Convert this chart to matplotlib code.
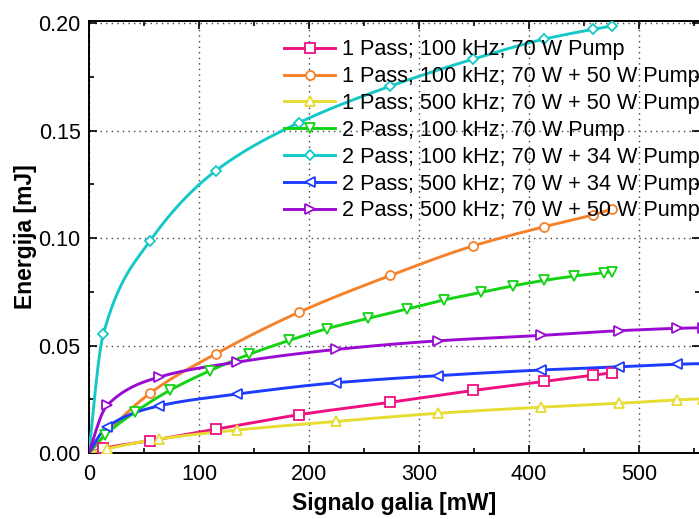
import matplotlib

matplotlib.use("Agg")

import matplotlib.pyplot as plt
import numpy as np
from matplotlib.ticker import FormatStrFormatter, MultipleLocator


# Signal power [mW] and pulse energy [mJ] for each amplifier configuration
x_100k = [13.0, 55.5, 115.5, 190.5, 274.0, 349.5, 414.0, 458.0, 475.5]
x_500k = [16.5, 63.5, 134.5, 225.0, 317.5, 410.5, 482.0, 534.5, 558.0]
x_2p_70 = [15.0, 41.8, 73.6, 110.0, 145.7, 182.1, 216.0, 253.3,
           289.4, 322.7, 356.1, 385.8, 413.9, 440.9, 468.2, 475.2]

e_1p_100k_70 = [0.0021, 0.0057, 0.0111, 0.0178, 0.0236, 0.0291, 0.0333, 0.0362, 0.0373]
e_1p_100k_120 = [0.0278, 0.0462, 0.0654, 0.0826, 0.0964, 0.1053, 0.1108, 0.1135]
e_1p_500k_120 = [0.0020, 0.0065, 0.0107, 0.0147, 0.0185, 0.0213, 0.0231, 0.0247, 0.0252]
e_2p_100k_70 = [0.0085, 0.0190, 0.0292, 0.0383, 0.0459, 0.0524, 0.0578, 0.0626,
                0.0670, 0.0712, 0.0747, 0.0778, 0.0803, 0.0823, 0.0839, 0.0843]
e_2p_100k_104 = [0.0553, 0.0987, 0.1314, 0.1536, 0.1707, 0.1833, 0.1926, 0.1971, 0.1987]
e_2p_500k_104 = [0.0122, 0.0219, 0.0274, 0.0327, 0.0360, 0.0386, 0.0401, 0.0413, 0.0416]
e_2p_500k_120 = [0.0222, 0.0353, 0.0423, 0.0482, 0.0522, 0.0547, 0.0569, 0.0580, 0.0583]

labels = [
    "1 Pass; 100 kHz; 70 W Pump",
    "1 Pass; 100 kHz; 70 W + 50 W Pump",
    "1 Pass; 500 kHz; 70 W + 50 W Pump",
    "2 Pass; 100 kHz; 70 W Pump",
    "2 Pass; 100 kHz; 70 W + 34 W Pump",
    "2 Pass; 500 kHz; 70 W + 34 W Pump",
    "2 Pass; 500 kHz; 70 W + 50 W Pump",
]

series = [
    (x_100k, e_1p_100k_70, "#ee1080", "s"),
    (x_100k[1:], e_1p_100k_120, "#f5822a", "o"),
    (x_500k, e_1p_500k_120, "#e6dc32", "^"),
    (x_2p_70, e_2p_100k_70, "#14d214", "v"),
    (x_100k, e_2p_100k_104, "#14c8c8", "D"),
    (x_500k, e_2p_500k_104, "#1e3cff", "<"),
    (x_500k, e_2p_500k_120, "#9a0ad2", ">"),
]


def pchip(x, y, xs):
    """Monotone cubic interpolation used to draw a smooth trend line."""

    x = np.asarray(x, dtype=float)
    y = np.asarray(y, dtype=float)
    h = np.diff(x)
    delta = np.diff(y) / h
    d = np.zeros_like(y)

    for k in range(1, len(x) - 1):
        if delta[k - 1] * delta[k] > 0:
            w1 = 2 * h[k] + h[k - 1]
            w2 = h[k] + 2 * h[k - 1]
            d[k] = (w1 + w2) / (w1 / delta[k - 1] + w2 / delta[k])

    d[0] = ((2 * h[0] + h[1]) * delta[0] - h[0] * delta[1]) / (h[0] + h[1])
    if np.sign(d[0]) != np.sign(delta[0]):
        d[0] = 0
    elif np.sign(delta[0]) != np.sign(delta[1]) and abs(d[0]) > abs(3 * delta[0]):
        d[0] = 3 * delta[0]

    d[-1] = ((2 * h[-1] + h[-2]) * delta[-1] - h[-1] * delta[-2]) / (h[-1] + h[-2])
    if np.sign(d[-1]) != np.sign(delta[-1]):
        d[-1] = 0

    idx = np.clip(np.searchsorted(x, xs) - 1, 0, len(x) - 2)
    t = (xs - x[idx]) / h[idx]
    h00 = 2 * t**3 - 3 * t**2 + 1
    h10 = t**3 - 2 * t**2 + t
    h01 = -2 * t**3 + 3 * t**2
    h11 = t**3 - t**2

    return (
        h00 * y[idx]
        + h10 * h[idx] * d[idx]
        + h01 * y[idx + 1]
        + h11 * h[idx] * d[idx + 1]
    )


plt.rcParams["font.family"] = ["Liberation Sans", "DejaVu Sans"]

fig = plt.figure(figsize=(6.99, 5.19), dpi=100)
ax = fig.add_axes([89 / 699, 1 - 453 / 519, 611 / 699, 432 / 519])

for (xv, yv, color, marker), label in zip(series, labels):
    size = 5.5 if marker == "D" else 6.5
    xs_pts = np.concatenate([[0.0], xv])
    ys_pts = np.concatenate([[0.0], yv])
    xs = np.linspace(0, xs_pts[-1], 400)
    ax.plot(xs, pchip(xs_pts, ys_pts, xs), color=color, lw=2.1, zorder=3)
    ax.plot(
        xv,
        yv,
        linestyle="none",
        marker=marker,
        markersize=size,
        markerfacecolor="white",
        markeredgecolor=color,
        markeredgewidth=1.3,
        zorder=4,
    )
    # legend proxy with line + marker
    ax.plot(
        [],
        [],
        color=color,
        lw=2.1,
        marker=marker,
        markersize=size,
        markerfacecolor="white",
        markeredgecolor=color,
        markeredgewidth=1.3,
        label=label,
    )

ax.set_xlim(0, 555.5)
ax.set_ylim(0, 0.201)
ax.xaxis.set_major_locator(MultipleLocator(100))
ax.xaxis.set_minor_locator(MultipleLocator(50))
ax.yaxis.set_major_locator(MultipleLocator(0.05))
ax.yaxis.set_minor_locator(MultipleLocator(0.025))
ax.yaxis.set_major_formatter(FormatStrFormatter("%.2f"))

ax.tick_params(which="both", direction="in", top=True, right=True, width=1.2)
ax.tick_params(which="major", length=6, labelsize=15.5)
ax.tick_params(axis="x", which="major", pad=8)
ax.tick_params(axis="y", which="major", pad=6)
ax.tick_params(which="minor", length=3.5)
for spine in ax.spines.values():
    spine.set_linewidth(1.4)

ax.grid(True, which="major", color="#444444", linestyle=(0, (1, 3)), lw=1.0)

ax.set_xlabel("Signalo galia [mW]", fontsize=16.5, fontweight="bold", labelpad=5)
ax.set_ylabel("Energija [mJ]", fontsize=16.5, fontweight="bold", labelpad=1)

ax.legend(
    loc="upper left",
    bbox_to_anchor=(280 / 699, 1 - 35 / 519),
    bbox_transform=fig.transFigure,
    fontsize=15.6,
    frameon=True,
    fancybox=False,
    framealpha=0,
    edgecolor="black",
    borderpad=0.2,
    labelspacing=0.27,
    handlelength=2.35,
    handletextpad=0.3,
    borderaxespad=0,
)

fig.savefig("out.png", dpi=100)
